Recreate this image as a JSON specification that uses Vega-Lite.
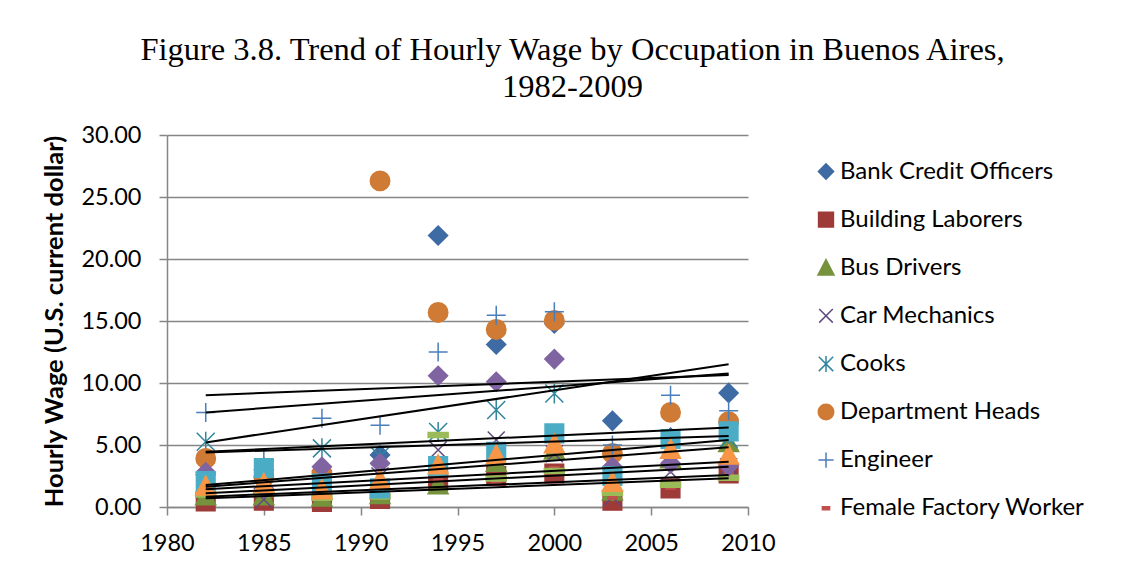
{
  "$schema": "https://vega.github.io/schema/vega-lite/v6.json",
  "width": 581,
  "height": 372,
  "autosize": {"type": "none"},
  "padding": {"left": 167, "top": 135, "right": 375, "bottom": 64},
  "background": "white",
  "title": {
    "text": ["Figure 3.8. Trend of Hourly Wage by Occupation in Buenos Aires,", "1982-2009"],
    "font": "Liberation Serif",
    "fontSize": 32.5,
    "fontWeight": "normal",
    "color": "black",
    "anchor": "middle",
    "dx": 115,
    "offset": 20,
    "lineHeight": 37
  },
  "config": {
    "view": {"stroke": null},
    "axis": {
      "labelFont": "Lato",
      "labelFontSize": 23.5,
      "labelColor": "black",
      "labelFlush": false,
      "labelOverlap": false,
      "domainColor": "#868686",
      "domainWidth": 1.5,
      "tickColor": "#868686",
      "tickWidth": 1.5,
      "tickSize": 8,
      "gridColor": "#868686",
      "gridWidth": 1.5
    },
    "legend": {
      "labelFont": "Lato",
      "labelFontSize": 24,
      "labelColor": "black",
      "labelLimit": 0,
      "symbolSize": 256,
      "symbolStrokeWidth": 1.5,
      "rowPadding": 24.1,
      "labelOffset": 2,
      "padding": 0
    }
  },
  "datasets": {
    "points": [
      {"occupation": "Bank Credit Officers", "year": 1982, "wage": 2.6},
      {"occupation": "Bank Credit Officers", "year": 1985, "wage": 3.0},
      {"occupation": "Bank Credit Officers", "year": 1988, "wage": 2.9},
      {"occupation": "Bank Credit Officers", "year": 1991, "wage": 4.2},
      {"occupation": "Bank Credit Officers", "year": 1994, "wage": 21.9},
      {"occupation": "Bank Credit Officers", "year": 1997, "wage": 13.1},
      {"occupation": "Bank Credit Officers", "year": 2000, "wage": 14.8},
      {"occupation": "Bank Credit Officers", "year": 2003, "wage": 6.95},
      {"occupation": "Bank Credit Officers", "year": 2006, "wage": 5.6},
      {"occupation": "Bank Credit Officers", "year": 2009, "wage": 9.2},
      {"occupation": "Building Laborers", "year": 1982, "wage": 0.45},
      {"occupation": "Building Laborers", "year": 1985, "wage": 0.5},
      {"occupation": "Building Laborers", "year": 1988, "wage": 0.4},
      {"occupation": "Building Laborers", "year": 1991, "wage": 0.65},
      {"occupation": "Building Laborers", "year": 1994, "wage": 2.1},
      {"occupation": "Building Laborers", "year": 1997, "wage": 2.5},
      {"occupation": "Building Laborers", "year": 2000, "wage": 2.7},
      {"occupation": "Building Laborers", "year": 2003, "wage": 0.5},
      {"occupation": "Building Laborers", "year": 2006, "wage": 1.5},
      {"occupation": "Building Laborers", "year": 2009, "wage": 2.7},
      {"occupation": "Bus Drivers", "year": 1982, "wage": 0.9},
      {"occupation": "Bus Drivers", "year": 1985, "wage": 0.9},
      {"occupation": "Bus Drivers", "year": 1988, "wage": 0.8},
      {"occupation": "Bus Drivers", "year": 1991, "wage": 1.0},
      {"occupation": "Bus Drivers", "year": 1994, "wage": 1.8},
      {"occupation": "Bus Drivers", "year": 1997, "wage": 3.6},
      {"occupation": "Bus Drivers", "year": 2000, "wage": 4.6},
      {"occupation": "Bus Drivers", "year": 2003, "wage": 1.3},
      {"occupation": "Bus Drivers", "year": 2006, "wage": 3.9},
      {"occupation": "Bus Drivers", "year": 2009, "wage": 5.2},
      {"occupation": "Car Mechanics", "year": 1982, "wage": 2.0},
      {"occupation": "Car Mechanics", "year": 1985, "wage": 0.6},
      {"occupation": "Car Mechanics", "year": 1988, "wage": 1.5},
      {"occupation": "Car Mechanics", "year": 1991, "wage": 2.5},
      {"occupation": "Car Mechanics", "year": 1994, "wage": 4.6},
      {"occupation": "Car Mechanics", "year": 1997, "wage": 5.4},
      {"occupation": "Car Mechanics", "year": 2000, "wage": 4.3},
      {"occupation": "Car Mechanics", "year": 2003, "wage": 0.8},
      {"occupation": "Car Mechanics", "year": 2006, "wage": 2.85},
      {"occupation": "Car Mechanics", "year": 2009, "wage": 3.25},
      {"occupation": "Cooks", "year": 1982, "wage": 5.26},
      {"occupation": "Cooks", "year": 1985, "wage": 3.2},
      {"occupation": "Cooks", "year": 1988, "wage": 4.73},
      {"occupation": "Cooks", "year": 1991, "wage": 4.1},
      {"occupation": "Cooks", "year": 1994, "wage": 6.05},
      {"occupation": "Cooks", "year": 1997, "wage": 7.82},
      {"occupation": "Cooks", "year": 2000, "wage": 9.16},
      {"occupation": "Cooks", "year": 2003, "wage": 3.46},
      {"occupation": "Cooks", "year": 2006, "wage": 5.4},
      {"occupation": "Cooks", "year": 2009, "wage": 5.5},
      {"occupation": "Department Heads", "year": 1982, "wage": 3.92},
      {"occupation": "Department Heads", "year": 1985, "wage": 2.4},
      {"occupation": "Department Heads", "year": 1988, "wage": 2.7},
      {"occupation": "Department Heads", "year": 1991, "wage": 26.3},
      {"occupation": "Department Heads", "year": 1994, "wage": 15.69},
      {"occupation": "Department Heads", "year": 1997, "wage": 14.32},
      {"occupation": "Department Heads", "year": 2000, "wage": 15.05},
      {"occupation": "Department Heads", "year": 2003, "wage": 4.32},
      {"occupation": "Department Heads", "year": 2006, "wage": 7.63},
      {"occupation": "Department Heads", "year": 2009, "wage": 6.88},
      {"occupation": "Engineer", "year": 1982, "wage": 7.63},
      {"occupation": "Engineer", "year": 1985, "wage": 3.9},
      {"occupation": "Engineer", "year": 1988, "wage": 7.15},
      {"occupation": "Engineer", "year": 1991, "wage": 6.6},
      {"occupation": "Engineer", "year": 1994, "wage": 12.5},
      {"occupation": "Engineer", "year": 1997, "wage": 15.47},
      {"occupation": "Engineer", "year": 2000, "wage": 15.74},
      {"occupation": "Engineer", "year": 2003, "wage": 5.0},
      {"occupation": "Engineer", "year": 2006, "wage": 9.02},
      {"occupation": "Engineer", "year": 2009, "wage": 7.76},
      {"occupation": "Female Factory Worker", "year": 1982, "wage": 1.2},
      {"occupation": "Female Factory Worker", "year": 1985, "wage": 1.3},
      {"occupation": "Female Factory Worker", "year": 1988, "wage": 1.2},
      {"occupation": "Female Factory Worker", "year": 1991, "wage": 1.0},
      {"occupation": "Female Factory Worker", "year": 1994, "wage": 2.2},
      {"occupation": "Female Factory Worker", "year": 1997, "wage": 2.0},
      {"occupation": "Female Factory Worker", "year": 2000, "wage": 3.1},
      {"occupation": "Female Factory Worker", "year": 2003, "wage": 0.8},
      {"occupation": "Female Factory Worker", "year": 2006, "wage": 1.6},
      {"occupation": "Female Factory Worker", "year": 2009, "wage": 2.6},
      {"occupation": "Personal Assistants", "year": 1982, "wage": 1.0},
      {"occupation": "Personal Assistants", "year": 1985, "wage": 1.05},
      {"occupation": "Personal Assistants", "year": 1988, "wage": 0.75},
      {"occupation": "Personal Assistants", "year": 1991, "wage": 0.85},
      {"occupation": "Personal Assistants", "year": 1994, "wage": 5.8},
      {"occupation": "Personal Assistants", "year": 1997, "wage": 2.3},
      {"occupation": "Personal Assistants", "year": 2000, "wage": 2.9},
      {"occupation": "Personal Assistants", "year": 2003, "wage": 1.15},
      {"occupation": "Personal Assistants", "year": 2006, "wage": 1.8},
      {"occupation": "Personal Assistants", "year": 2009, "wage": 2.35},
      {"occupation": "Primary School Teachers", "year": 1982, "wage": 2.8},
      {"occupation": "Primary School Teachers", "year": 1985, "wage": 1.5},
      {"occupation": "Primary School Teachers", "year": 1988, "wage": 3.25},
      {"occupation": "Primary School Teachers", "year": 1991, "wage": 3.52},
      {"occupation": "Primary School Teachers", "year": 1994, "wage": 10.58},
      {"occupation": "Primary School Teachers", "year": 1997, "wage": 10.1},
      {"occupation": "Primary School Teachers", "year": 2000, "wage": 11.93},
      {"occupation": "Primary School Teachers", "year": 2003, "wage": 3.25},
      {"occupation": "Primary School Teachers", "year": 2006, "wage": 3.52},
      {"occupation": "Primary School Teachers", "year": 2009, "wage": 3.3},
      {"occupation": "Product Managers", "year": 1982, "wage": 2.1},
      {"occupation": "Product Managers", "year": 1985, "wage": 3.14},
      {"occupation": "Product Managers", "year": 1988, "wage": 1.9},
      {"occupation": "Product Managers", "year": 1991, "wage": 1.5},
      {"occupation": "Product Managers", "year": 1994, "wage": 3.3},
      {"occupation": "Product Managers", "year": 1997, "wage": 4.46},
      {"occupation": "Product Managers", "year": 2000, "wage": 5.94},
      {"occupation": "Product Managers", "year": 2003, "wage": 2.5},
      {"occupation": "Product Managers", "year": 2006, "wage": 5.48},
      {"occupation": "Product Managers", "year": 2009, "wage": 6.1},
      {"occupation": "Skilled Industrial Workers", "year": 1982, "wage": 1.7},
      {"occupation": "Skilled Industrial Workers", "year": 1985, "wage": 1.9},
      {"occupation": "Skilled Industrial Workers", "year": 1988, "wage": 1.4},
      {"occupation": "Skilled Industrial Workers", "year": 1991, "wage": 2.2},
      {"occupation": "Skilled Industrial Workers", "year": 1994, "wage": 3.4},
      {"occupation": "Skilled Industrial Workers", "year": 1997, "wage": 4.2},
      {"occupation": "Skilled Industrial Workers", "year": 2000, "wage": 5.1},
      {"occupation": "Skilled Industrial Workers", "year": 2003, "wage": 2.0},
      {"occupation": "Skilled Industrial Workers", "year": 2006, "wage": 4.65},
      {"occupation": "Skilled Industrial Workers", "year": 2009, "wage": 4.2}
    ],
    "trends": [
      {"occupation": "Department Heads", "year": 1982, "wage": 9.02},
      {"occupation": "Department Heads", "year": 2009, "wage": 10.64},
      {"occupation": "Engineer", "year": 1982, "wage": 7.63},
      {"occupation": "Engineer", "year": 2009, "wage": 10.77},
      {"occupation": "Bank Credit Officers", "year": 1982, "wage": 5.21},
      {"occupation": "Bank Credit Officers", "year": 2009, "wage": 11.52},
      {"occupation": "Cooks", "year": 1982, "wage": 4.45},
      {"occupation": "Cooks", "year": 2009, "wage": 6.42},
      {"occupation": "Primary School Teachers", "year": 1982, "wage": 4.4},
      {"occupation": "Primary School Teachers", "year": 2009, "wage": 5.72},
      {"occupation": "Product Managers", "year": 1982, "wage": 1.77},
      {"occupation": "Product Managers", "year": 2009, "wage": 5.4},
      {"occupation": "Skilled Industrial Workers", "year": 1982, "wage": 1.64},
      {"occupation": "Skilled Industrial Workers", "year": 2009, "wage": 4.81},
      {"occupation": "Car Mechanics", "year": 1982, "wage": 1.43},
      {"occupation": "Car Mechanics", "year": 2009, "wage": 3.65},
      {"occupation": "Bus Drivers", "year": 1982, "wage": 1.1},
      {"occupation": "Bus Drivers", "year": 2009, "wage": 3.25},
      {"occupation": "Personal Assistants", "year": 1982, "wage": 0.83},
      {"occupation": "Personal Assistants", "year": 2009, "wage": 2.58},
      {"occupation": "Building Laborers", "year": 1982, "wage": 0.7},
      {"occupation": "Building Laborers", "year": 2009, "wage": 2.31}
    ]
  },
  "layer": [
    {
      "data": {"name": "points"},
      "mark": {"type": "point", "filled": true, "opacity": 1, "size": 400, "strokeWidth": 1.5},
      "encoding": {
        "x": {
          "field": "year",
          "type": "quantitative",
          "scale": {"domain": [1980, 2010], "nice": false, "zero": false},
          "axis": {"values": [1980, 1985, 1990, 1995, 2000, 2005, 2010], "format": "d", "grid": false, "labelPadding": 16, "title": null}
        },
        "y": {
          "field": "wage",
          "type": "quantitative",
          "scale": {"domain": [0, 30], "nice": false},
          "axis": {
            "values": [0, 5, 10, 15, 20, 25, 30],
            "format": ".2f",
            "grid": true,
            "labelPadding": 18,
            "title": "Hourly Wage (U.S. current dollar)",
            "titleFont": "Lato",
            "titleFontSize": 25.5,
            "titleFontWeight": "bold",
            "titleColor": "black",
            "titlePadding": 13
          }
        },
        "fill": {
          "field": "occupation",
          "type": "nominal",
          "scale": {
            "domain": ["Bank Credit Officers", "Building Laborers", "Bus Drivers", "Car Mechanics", "Cooks", "Department Heads", "Engineer", "Female Factory Worker", "Personal Assistants", "Primary School Teachers", "Product Managers", "Skilled Industrial Workers"],
            "range": ["#3E6BA3", "#9E3A38", "#76923C", "#604A7B", "#31859C", "#CF7A35", "#4A7EBB", "#C0504D", "#9BBB59", "#8064A2", "#4BACC6", "#F79646"]
          },
          "legend": {"title": null, "orient": "none", "legendX": 647, "legendY": 24.5, "values": ["Bank Credit Officers", "Building Laborers", "Bus Drivers", "Car Mechanics", "Cooks", "Department Heads", "Engineer", "Female Factory Worker"]}
        },
        "stroke": {
          "field": "occupation",
          "type": "nominal",
          "scale": {
            "domain": ["Bank Credit Officers", "Building Laborers", "Bus Drivers", "Car Mechanics", "Cooks", "Department Heads", "Engineer", "Female Factory Worker", "Personal Assistants", "Primary School Teachers", "Product Managers", "Skilled Industrial Workers"],
            "range": ["#3E6BA3", "#9E3A38", "#76923C", "#604A7B", "#31859C", "#CF7A35", "#4A7EBB", "#C0504D", "#9BBB59", "#8064A2", "#4BACC6", "#F79646"]
          },
          "legend": {"title": null, "orient": "none", "legendX": 647, "legendY": 24.5, "values": ["Bank Credit Officers", "Building Laborers", "Bus Drivers", "Car Mechanics", "Cooks", "Department Heads", "Engineer", "Female Factory Worker"]}
        },
        "shape": {
          "field": "occupation",
          "type": "nominal",
          "scale": {
            "domain": ["Bank Credit Officers", "Building Laborers", "Bus Drivers", "Car Mechanics", "Cooks", "Department Heads", "Engineer", "Female Factory Worker", "Personal Assistants", "Primary School Teachers", "Product Managers", "Skilled Industrial Workers"],
            "range": [
              "M0,-0.95L0.95,0L0,0.95L-0.95,0Z",
              "M-0.93,-0.93H0.93V0.93H-0.93Z",
              "M0,-1L1,0.9L-1,0.9Z",
              "M-0.85,-0.85L0.85,0.85M-0.85,0.85L0.85,-0.85",
              "M-0.9,-0.9L0.9,0.9M-0.9,0.9L0.9,-0.9M0,-1V1",
              "M0.97,0A0.97,0.97,0,1,1,-0.97,0A0.97,0.97,0,1,1,0.97,0Z",
              "M-0.95,0H0.95M0,-0.95V0.95",
              "M-0.45,-0.18H0.45V0.18H-0.45Z",
              "M-1,-0.25H1V0.25H-1Z",
              "M0,-0.95L0.95,0L0,0.95L-0.95,0Z",
              "M-0.93,-0.93H0.93V0.93H-0.93Z",
              "M0,-1L1,0.9L-1,0.9Z"
            ]
          },
          "legend": {"title": null, "orient": "none", "legendX": 647, "legendY": 24.5, "values": ["Bank Credit Officers", "Building Laborers", "Bus Drivers", "Car Mechanics", "Cooks", "Department Heads", "Engineer", "Female Factory Worker"]}
        }
      }
    },
    {
      "data": {"name": "trends"},
      "mark": {"type": "line", "color": "black", "strokeWidth": 2},
      "encoding": {
        "x": {"field": "year", "type": "quantitative"},
        "y": {"field": "wage", "type": "quantitative"},
        "detail": {"field": "occupation", "type": "nominal"}
      }
    }
  ]
}
